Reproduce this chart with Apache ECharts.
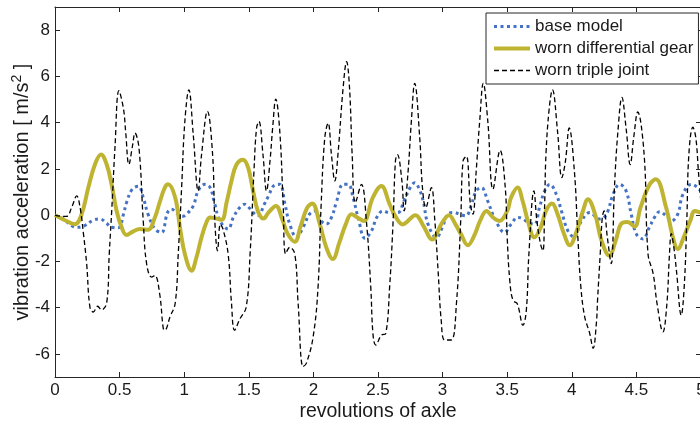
<!DOCTYPE html>
<html>
<head>
<meta charset="utf-8">
<script src="https://cdn.jsdelivr.net/npm/echarts@6/dist/echarts.min.js"></script>
<style>html,body{margin:0;padding:0;background:#fff;}#c{width:700px;height:423px;}</style>
</head>
<body>
<div id="c"></div>
<script>
// ---- data ----
const seriesNames = ['base model', 'worn differential gear', 'worn triple joint'];
const xTicks = [0, 0.5, 1, 1.5, 2, 2.5, 3, 3.5, 4, 4.5, 5];
const yTicks = [-6, -4, -2, 0, 2, 4, 6, 8];

const baseX = [0,0.06,0.13,0.17,0.23,0.295,0.348,0.4,0.425,0.49,0.53,0.554,0.598,0.645,0.683,0.72,0.773,0.825,0.87,0.9,0.95,0.99,1.02,1.07,1.108,1.16,1.2,1.237,1.276,1.34,1.38,1.43,1.47,1.5,1.57,1.62,1.65,1.7,1.74,1.78,1.817,1.87,1.92,1.97,2.01,2.06,2.1,2.14,2.18,2.23,2.27,2.307,2.346,2.4,2.45,2.49,2.54,2.59,2.655,2.7,2.75,2.784,2.82,2.85,2.887,2.952,3.0,3.04,3.09,3.13,3.18,3.22,3.26,3.3,3.35,3.4,3.48,3.53,3.583,3.62,3.66,3.71,3.75,3.79,3.83,3.88,3.92,3.97,4.02,4.07,4.14,4.215,4.25,4.28,4.32,4.37,4.42,4.46,4.5,4.55,4.6,4.64,4.68,4.73,4.77,4.82,4.86,4.925,4.975,5.0];
const baseY = [0,-0.15,-0.46,-0.53,-0.45,-0.22,-0.17,-0.35,-0.5,-0.55,0.04,0.55,1.12,1.25,0.76,0.04,-0.6,-0.75,0.1,0.26,0.05,-0.05,0.05,0.4,1.05,1.33,1.2,0.47,-0.25,-0.6,-0.1,0.33,0.47,0.33,-0.03,0.47,0.8,1.3,1.33,0.47,-0.39,-0.96,-0.53,0.04,0.18,-0.25,-0.39,-0.1,0.6,1.33,1.33,0.76,-0.1,-1.0,-0.68,-0.1,0.18,0.1,0.11,0.6,1.2,1.4,1.12,0.6,-0.39,-0.96,-0.5,0.04,0.11,0.04,-0.03,0.4,1.05,1.19,0.6,-0.1,-0.75,-0.39,-0.1,-0.15,-0.32,-0.39,0.33,1.05,1.33,0.9,0.18,-0.68,-0.96,-0.3,0.11,-0.17,-0.1,0.18,0.9,1.33,1.05,0.04,-0.82,-1.03,-0.53,-0.1,0.15,-0.03,-0.25,0.04,0.9,1.33,1.19,1.0];

const gearX = [0,0.077,0.155,0.206,0.258,0.309,0.356,0.4,0.438,0.477,0.516,0.554,0.606,0.657,0.72,0.773,0.81,0.85,0.876,0.93,0.967,1.005,1.057,1.095,1.134,1.173,1.2,1.25,1.29,1.33,1.366,1.405,1.456,1.495,1.533,1.572,1.616,1.65,1.71,1.76,1.8,1.856,1.9,1.95,1.99,2.05,2.1,2.15,2.2,2.25,2.295,2.34,2.39,2.46,2.526,2.59,2.64,2.69,2.79,2.85,2.92,2.99,3.05,3.1,3.14,3.195,3.25,3.29,3.34,3.39,3.44,3.5,3.53,3.58,3.62,3.66,3.71,3.76,3.8,3.846,3.89,3.94,3.985,4.03,4.086,4.125,4.18,4.23,4.29,4.34,4.38,4.43,4.486,4.53,4.6,4.65,4.73,4.78,4.82,4.87,4.92,4.95,5.0];
const gearY = [0,-0.22,-0.39,0.04,1.19,2.19,2.62,2.19,1.33,0.18,-0.53,-0.86,-0.7,-0.6,-0.63,-0.1,0.55,1.19,1.33,0.76,-0.53,-1.68,-2.4,-1.82,-0.96,-0.3,-0.1,-0.15,-0.2,0.6,1.48,2.19,2.4,2.05,1.05,0.15,-0.15,0.1,0.4,-0.2,-0.8,-1.15,-0.5,0.3,0.5,-0.4,-1.4,-1.9,-1.2,-0.4,0.04,-0.1,-0.25,0.76,1.26,0.47,-0.1,-0.4,0.0,-0.45,-1.05,-0.39,0.0,-0.4,-0.8,-1.3,-0.82,-0.25,0.18,-0.1,-0.25,0.18,0.76,1.19,0.6,-0.25,-0.96,-0.53,0.18,0.5,0.04,-0.82,-1.3,-0.82,0.18,0.69,0.04,-1.1,-1.75,-1.1,-0.39,-0.3,-0.5,0.3,1.3,1.55,0.33,-0.9,-1.46,-0.9,-0.2,0.18,0.1];

const jointX = [0,0.05,0.09,0.13,0.168,0.195,0.22,0.245,0.27,0.296,0.33,0.36,0.4,0.42,0.44,0.464,0.495,0.53,0.547,0.572,0.6,0.619,0.65,0.683,0.709,0.748,0.773,0.81,0.838,0.85,0.89,0.93,0.954,0.98,1.005,1.036,1.07,1.108,1.134,1.18,1.22,1.237,1.258,1.28,1.3,1.34,1.366,1.39,1.43,1.48,1.51,1.54,1.56,1.578,1.61,1.637,1.665,1.685,1.709,1.74,1.766,1.785,1.817,1.856,1.882,1.92,1.946,1.998,2.036,2.06,2.088,2.114,2.14,2.166,2.19,2.23,2.257,2.28,2.3,2.325,2.372,2.41,2.444,2.462,2.483,2.526,2.56,2.59,2.617,2.635,2.65,2.685,2.702,2.733,2.758,2.784,2.823,2.844,2.87,2.913,2.94,2.965,2.99,3.016,3.067,3.107,3.14,3.158,3.184,3.215,3.235,3.26,3.287,3.315,3.35,3.39,3.445,3.485,3.5,3.52,3.545,3.578,3.622,3.648,3.668,3.707,3.73,3.76,3.777,3.79,3.8,3.825,3.85,3.89,3.923,3.95,3.98,4.02,4.047,4.07,4.1,4.138,4.165,4.19,4.2,4.22,4.236,4.25,4.275,4.305,4.33,4.357,4.388,4.42,4.452,4.48,4.51,4.56,4.59,4.63,4.66,4.705,4.736,4.756,4.77,4.79,4.81,4.847,4.87,4.89,4.906,4.937,4.96,4.98,5.0];
const jointY = [0,-0.05,-0.05,0.35,0.83,0.3,-0.8,-2.1,-3.97,-4.19,-3.94,-4.1,-3.8,-1.67,0.3,2.9,5.38,4.6,3.6,2.19,3.0,3.55,2.9,-0.25,-2.1,-2.68,-2.61,-3.4,-4.9,-4.98,-4.4,-3.82,-1.67,1.19,4.05,5.42,3.48,1.05,2.6,4.49,2.6,-0.25,-1.54,-0.39,-0.6,-1.68,-3.8,-4.98,-4.5,-3.97,-1.67,1.9,3.77,4.05,2.6,1.05,2.4,3.8,5.02,3.6,0.48,-1.67,-1.39,-1.68,-3.83,-6.55,-6.4,-5.26,-3.11,0.47,3.34,3.98,2.6,1.48,2.62,5.5,6.64,5.47,2.62,0.54,1.33,-0.25,-3.11,-5.2,-5.62,-5.19,-5.12,-3.11,-0.25,2.34,2.62,1.48,0.18,1.9,4.05,5.7,3.34,1.19,0.33,1.19,-0.25,-2.4,-4.6,-5.4,-5.4,-3.83,-0.25,2.34,2.55,0.47,0.04,1.9,4.05,5.7,4.05,1.12,2.8,1.19,-0.96,-2.83,-3.69,-3.83,-4.76,-4.12,-1.68,1.05,-0.25,-1.3,-1.54,0.5,2.62,4.6,5.42,3.6,1.62,2.3,3.77,1.9,-0.96,-3.1,-4.4,-5.1,-5.76,-4.69,-3.6,-1.68,-0.1,0.18,-0.96,-2.1,1.19,3.62,5.09,3.77,2.19,3.4,4.46,2.6,-1.68,-2.54,-3.83,-5.05,-3.83,-1.68,-0.8,-1.4,-2.4,-4.33,-3.1,-0.25,2.62,3.8,3.34,1.9,0.5];

// ---- chart ----
function pairs(xs, ys) { return xs.map((x, i) => [x, ys[i]]); }
const FONT = '"Liberation Sans", Arial, sans-serif';
const AX = '#262626';
const TXT = '#1a1a1a';

const chart = echarts.init(document.getElementById('c'), null, {renderer: 'canvas'});
const xBase = {
  type: 'value', min: 0, max: 5, interval: 0.5,
  axisLine: {show: true, onZero: false, lineStyle: {color: AX, width: 1}},
  axisTick: {show: true, inside: true, length: 5, lineStyle: {color: AX}},
  splitLine: {show: false}
};
const yBase = {
  type: 'value', min: -7, max: 9, interval: 1,
  axisLine: {show: true, onZero: false, lineStyle: {color: AX, width: 1}},
  axisTick: {show: true, inside: true, length: 5, customValues: yTicks, lineStyle: {color: AX}},
  splitLine: {show: false}
};
chart.setOption({
  animation: false,
  backgroundColor: '#fff',
  textStyle: {fontFamily: FONT},
  grid: {left: 55, top: 7, width: 646, height: 370, containLabel: false, outerBoundsMode: 'none'},
  xAxis: [
    Object.assign({}, xBase, {
      position: 'bottom',
      axisLabel: {show: true, customValues: xTicks, margin: 5, color: TXT, fontSize: 17, fontFamily: FONT},
      name: 'revolutions of axle', nameLocation: 'middle', nameGap: 25, nameMoveOverlap: false,
      nameTextStyle: {color: TXT, fontSize: 19.5, fontFamily: FONT}
    }),
    Object.assign({}, xBase, {
      position: 'top',
      axisLabel: {show: false}
    })
  ],
  yAxis: [
    Object.assign({}, yBase, {
      position: 'left',
      axisLabel: {show: true, customValues: yTicks, margin: 5, color: TXT, fontSize: 17, fontFamily: FONT},
      name: 'vibration acceleration [ m/s{sup|2} ]', nameLocation: 'middle', nameGap: 21, nameMoveOverlap: false,
      nameTextStyle: {color: TXT, fontSize: 20, fontFamily: FONT, lineHeight: 24,
        rich: {sup: {fontSize: 14, fontFamily: FONT, color: TXT, verticalAlign: 'top', lineHeight: 24}}}
    }),
    Object.assign({}, yBase, {
      position: 'right',
      axisLabel: {show: false}
    })
  ],
  legend: {
    show: true, orient: 'vertical', left: 486, top: 13,
    padding: [5, 5, 5, 6], itemGap: 5, itemWidth: 36, itemHeight: 14,
    backgroundColor: '#fff', borderColor: AX, borderWidth: 1, borderRadius: 0,
    itemStyle: {opacity: 0},
    lineStyle: {width: 'inherit', type: 'inherit'},
    textStyle: {color: TXT, fontSize: 17, fontFamily: FONT},
    data: seriesNames
  },
  series: [
    {name: seriesNames[0], type: 'line', xAxisIndex: 0, yAxisIndex: 0, data: pairs(baseX, baseY),
     showSymbol: false, symbol: 'none', smooth: 0.4, z: 2,
     lineStyle: {color: '#4472c4', width: 3, type: [3, 3.5], cap: 'butt'}, itemStyle: {color: '#4472c4'}},
    {name: seriesNames[1], type: 'line', xAxisIndex: 0, yAxisIndex: 0, data: pairs(gearX, gearY),
     showSymbol: false, symbol: 'none', smooth: 0.4, z: 3,
     lineStyle: {color: '#bfb431', width: 4, type: 'solid'}, itemStyle: {color: '#bfb431'}},
    {name: seriesNames[2], type: 'line', xAxisIndex: 0, yAxisIndex: 0, data: pairs(jointX, jointY),
     showSymbol: false, symbol: 'none', smooth: 0.4, z: 4,
     lineStyle: {color: '#000', width: 1.3, type: [5, 3]}, itemStyle: {color: '#000'}}
  ]
});
</script>
</body>
</html>
